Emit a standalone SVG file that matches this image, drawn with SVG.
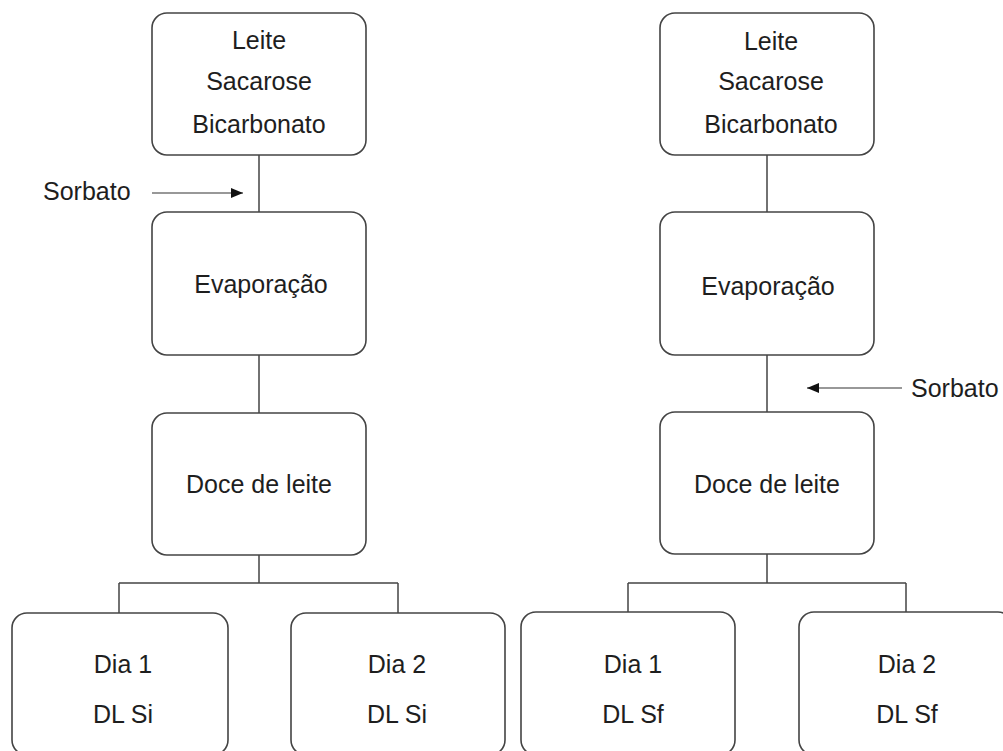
<svg xmlns="http://www.w3.org/2000/svg" width="1003" height="751" viewBox="0 0 1003 751">
<defs>
<style>
.box{fill:#fff;stroke:#444;stroke-width:1.6}
.ln{fill:none;stroke:#444;stroke-width:1.5}
.ar{fill:none;stroke:#333;stroke-width:1.2}
text{font-family:"Liberation Sans",Arial,sans-serif;font-size:25px;fill:#1e1e1e;text-anchor:middle}
.lt{text-anchor:start}
</style>
<marker id="ah" markerWidth="12" markerHeight="10" refX="12" refY="5" orient="auto" markerUnits="userSpaceOnUse">
<path d="M0,0 L12,5 L0,10 Z" fill="#111"/>
</marker>
</defs>
<rect width="1003" height="751" fill="#fff"/>
<g id="connectors">
<path class="ln" d="M259,155 V212 M259,355 V413 M259,555 V583 M119,583 H398 M119,583 V613 M398,583 V613"/>
<path class="ln" d="M767,155 V212 M767,355 V412 M767,554 V583 M628,583 H906 M628,583 V612 M906,583 V612"/>
<line class="ar" x1="152" y1="193" x2="243" y2="193" marker-end="url(#ah)"/>
<line class="ar" x1="902" y1="388" x2="807" y2="388" marker-end="url(#ah)"/>
</g>
<g id="label-sorbato-left"><text class="lt" x="43" y="200">Sorbato</text></g>
<g id="label-sorbato-right"><text class="lt" x="911" y="397">Sorbato</text></g>
<g id="left-top"><rect class="box" x="152" y="13" width="214" height="142" rx="15"/>
<text x="259" y="49">Leite</text><text x="259" y="90">Sacarose</text><text x="259" y="133">Bicarbonato</text></g>
<g id="left-evap"><rect class="box" x="152" y="212" width="214" height="143" rx="15"/>
<text x="261" y="293">Evaporação</text></g>
<g id="left-doce"><rect class="box" x="152" y="413" width="214" height="142" rx="15"/>
<text x="259" y="493">Doce de leite</text></g>
<g id="left-dia1"><rect class="box" x="12" y="613" width="216" height="142" rx="15"/>
<text x="123" y="673">Dia 1</text><text x="123" y="723">DL Si</text></g>
<g id="left-dia2"><rect class="box" x="291" y="613" width="214" height="142" rx="15"/>
<text x="397" y="673">Dia 2</text><text x="397" y="723">DL Si</text></g>
<g id="right-top"><rect class="box" x="660" y="13" width="214" height="142" rx="15"/>
<text x="771" y="50">Leite</text><text x="771" y="90">Sacarose</text><text x="771" y="133">Bicarbonato</text></g>
<g id="right-evap"><rect class="box" x="660" y="212" width="214" height="143" rx="15"/>
<text x="768" y="295">Evaporação</text></g>
<g id="right-doce"><rect class="box" x="660" y="412" width="214" height="142" rx="15"/>
<text x="767" y="493">Doce de leite</text></g>
<g id="right-dia1"><rect class="box" x="521" y="612" width="214" height="143" rx="15"/>
<text x="633" y="673">Dia 1</text><text x="633" y="723">DL Sf</text></g>
<g id="right-dia2"><rect class="box" x="799" y="612" width="214" height="143" rx="15"/>
<text x="907" y="673">Dia 2</text><text x="907" y="723">DL Sf</text></g>
</svg>
